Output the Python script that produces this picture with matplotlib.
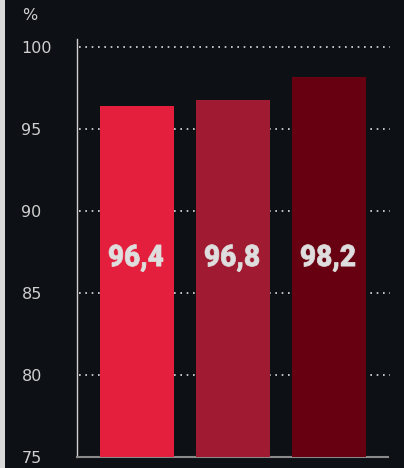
import matplotlib
matplotlib.use("Agg")
import matplotlib.pyplot as plt
from matplotlib.patches import Rectangle, PathPatch
from matplotlib.textpath import TextPath
from matplotlib.font_manager import FontProperties
from matplotlib.transforms import Affine2D, IdentityTransform

categories = ["A", "B", "C"]
values = [96.4, 96.8, 98.2]
labels = ["96,4", "96,8", "98,2"]
colors = ["#e31f3d", "#a01a31", "#670011"]
yticks = [75, 80, 85, 90, 95, 100]
ytick_labels = ["75", "80", "85", "90", "95", "100"]

BG = "#0d1015"
TXT = "#cfcfcf"

fig = plt.figure(figsize=(4.04, 4.68), dpi=100, facecolor=BG)
fig.patches.append(Rectangle((0, 0), 4.5 / 404, 1, transform=fig.transFigure,
                             facecolor="#d9d9d9", edgecolor="none"))
ax = fig.add_axes([77 / 404, 11 / 468, 311 / 404, 418 / 468])
ax.set_facecolor(BG)

x = list(range(len(categories)))
ax.bar(x, [v - 75 for v in values], bottom=75, width=0.77, color=colors, zorder=3)

ax.set_xlim(-0.625, 2.615)
ax.set_ylim(75, 100.5)

# condensed heavy value labels (Roboto, horizontally compressed)
fp = FontProperties(family="Roboto", weight="black")
digit = TextPath((0, 0), "9", size=1, prop=fp).get_extents()
h9 = digit.y1
target_h, target_w = 21.5, 54.0
for xi, lab in zip(x, labels):
    tp = TextPath((0, 0), lab, size=1, prop=fp)
    ext = tp.get_extents()
    sy = target_h / h9
    sx = target_w / ext.width
    px, py = ax.transData.transform((xi, 87.3))
    tr = (Affine2D().translate(-ext.x0 - ext.width / 2, -h9 / 2)
          .scale(sx, sy).translate(px - 1, py))
    patch = PathPatch(tr.transform_path(tp), facecolor="#dedede",
                      edgecolor="#dedede", linewidth=0.5, zorder=4)
    patch.set_transform(IdentityTransform())
    fig.patches.append(patch)

ax.set_xticks([])
ax.set_yticks(yticks)
ax.set_yticklabels(ytick_labels)
ax.tick_params(axis="y", length=0, pad=40, labelcolor=TXT, labelsize=11.5)
for t in ax.get_yticklabels():
    t.set_horizontalalignment("left")
    t.set_family("DejaVu Sans")

for yv in yticks[1:]:
    ax.plot([-0.6, 2.64], [yv, yv], color="#e0e0e0", linestyle=(0, (1, 2.8)),
            linewidth=1.2, zorder=1, clip_on=False)

for s in ["top", "right"]:
    ax.spines[s].set_visible(False)
ax.spines["left"].set_color("#d0d0d0")
ax.spines["left"].set_linewidth(1)
ax.spines["bottom"].set_color("#8a8a8a")
ax.spines["bottom"].set_linewidth(1.5)

fig.text(22 / 404, 1 - 16 / 468, "%", ha="left", va="center", color=TXT,
         fontsize=11.5, family="DejaVu Sans")

fig.savefig("out.png", dpi=100, facecolor=BG)
